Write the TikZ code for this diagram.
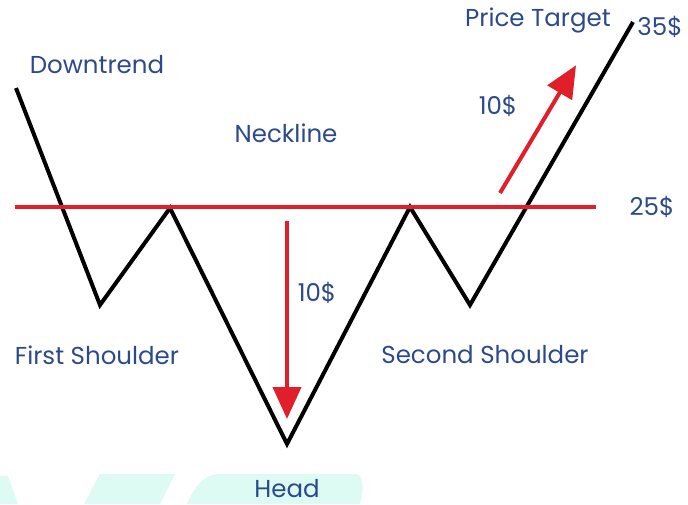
\documentclass[tikz,border=0pt]{standalone}
\usepackage{fontspec}
\setmainfont{Poppins}
\usetikzlibrary{arrows.meta}
\definecolor{txtblue}{HTML}{2C4A8A}
\definecolor{redln}{HTML}{E01F2B}
\definecolor{mint}{HTML}{DDFBF3}
\tikzset{
  lbl/.style={text=txtblue, font=\fontsize{24.5}{28}\selectfont, inner sep=0pt},
  price/.style={draw=black, line width=4pt, line join=miter},
  neck/.style={draw=redln, line width=3.5pt},
  movearrow/.style={draw=redln, line width=4pt, -{Triangle[width=28pt,length=32pt]}, shorten >=-2pt},
}
\begin{document}
\begin{tikzpicture}[x=1pt,y=-1pt]
\useasboundingbox (0,0) rectangle (688,504);
% watermark
\fill[mint] (0,476) -- (8,476) -- (18,504) -- (0,504) -- cycle;
\fill[mint] (100,474) -- (175,474) -- (160,504) -- (84,504) -- cycle;
\fill[mint] (187,504) .. controls (195,485) and (205,474) .. (220,474) -- (355,474) .. controls (364,474) and (364,490) .. (360,504) -- cycle;
% price path
\coordinate (p0) at (16,88);
\coordinate (p1) at (100,305);
\coordinate (p2) at (170,208);
\coordinate (p3) at (287,444);
\coordinate (p4) at (410,207);
\coordinate (p5) at (470,305);
\coordinate (p6) at (633,22);
\draw[price] (p0) -- (p1) -- (p2) -- (p3) -- (p4) -- (p5) -- (p6);
% neckline
\coordinate (n0) at (15,207);
\coordinate (n1) at (596,207);
\draw[neck] (n0) -- (n1);
% arrows
\coordinate (a0) at (287,221);
\coordinate (a1) at (287,417);
\draw[movearrow] (a0) -- (a1);
\coordinate (b0) at (500,193);
\coordinate (b1) at (575,67);
\draw[movearrow] (b0) -- (b1);
% labels
\node[lbl] (downtrend) at (97,65) {Downtrend};
\node[lbl] (neckline) at (286,133) {Neckline};
\node[lbl] (target) at (538,20) {Price Target};
\node[lbl] (p35) at (660,27) {35\$};
\node[lbl] (p25) at (652,207) {25\$};
\node[lbl] (d10) at (317,293) {10\$};
\node[lbl] (u10) at (498,106) {10\$};
\node[lbl] (first) at (97,355) {First Shoulder};
\node[lbl] (second) at (485,355) {Second Shoulder};
\node[lbl] (head) at (287,489) {Head};
\end{tikzpicture}
\end{document}
